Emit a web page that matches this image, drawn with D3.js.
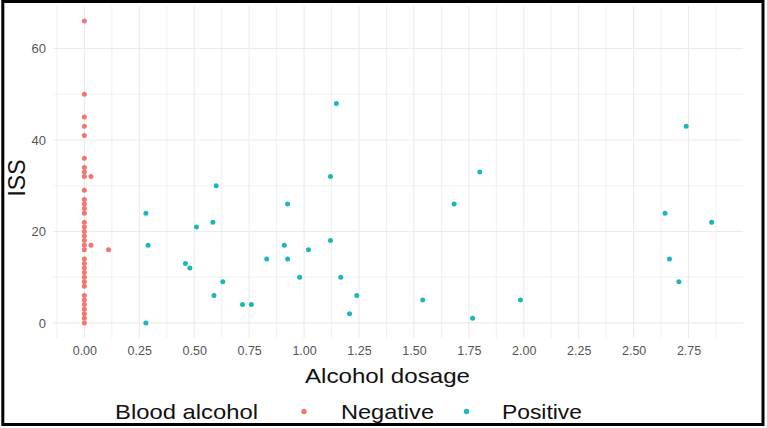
<!DOCTYPE html>
<html>
<head>
<meta charset="utf-8">
<script src="https://cdn.jsdelivr.net/npm/d3@7"></script>
<style>
  html, body { margin: 0; padding: 0; background: #fff; }
  svg { display: block; font-family: "Liberation Sans", Arial, sans-serif; }
</style>
</head>
<body>
<div id="chart"></div>
<script>
// Negative blood alcohol: dosage and ISS
const negDosage = [0,0,0,0,0,0,0, 0,0,0,0,0,0,0, 0,0,0,0,0,0,0, 0,0,0,0, 0, 0,0,0,0, 0,0,0,0,0, 0.03,0.03,0.11];
const negISS    = [0,1,2,3,4,5,6, 8,9,10,11,12,13,14, 16,17,18,19,20,21,22, 24,25,26,27, 29, 32,33,34,36, 41,43,45,50,66, 32,17,16];

// Positive blood alcohol
const posDosage = [0.28,0.28,0.29,0.46,0.48,0.51,0.585,0.60,0.59,0.63,0.72,0.76,
                   0.83,0.91,0.925,0.925,0.98,1.02,1.12,1.12,1.147,1.167,1.207,1.24,
                   1.54,1.683,1.767,1.80,1.985,2.643,2.663,2.706,2.739,2.855];
const posISS    = [24,0,17,13,12,21,22,30,6,9,4,4,
                   14,17,26,14,10,16,32,18,48,10,2,6,
                   5,26,1,33,5,24,14,9,43,22];

const xTicks = [0, 0.25, 0.5, 0.75, 1, 1.25, 1.5, 1.75, 2, 2.25, 2.5, 2.75];
const yTicks = [0, 20, 40, 60];
const groups = ['Negative', 'Positive'];
const groupColors = ['#F2756E', '#1CB7B8'];

const width = 767, height = 428;
const panel = {left: 53, right: 743, top: 6, bottom: 338};

const negPts = negDosage.map((d, i) => ({x: d, y: negISS[i], g: 0}));
const posPts = posDosage.map((d, i) => ({x: d, y: posISS[i], g: 1}));
const points = negPts.concat(posPts);

// ggplot-style 5% expansion of the data range
function expand(ext) {
    const pad = (ext[1] - ext[0]) * 0.05;
    return [ext[0] - pad, ext[1] + pad];
}

const x = d3.scaleLinear()
    .domain(expand(d3.extent(points, d => d.x)))
    .range([panel.left, panel.right]);
const y = d3.scaleLinear()
    .domain(expand(d3.extent(points, d => d.y)))
    .range([panel.bottom, panel.top]);

const svg = d3.select('#chart').append('svg')
    .attr('width', width)
    .attr('height', height);

svg.append('rect').attr('width', width).attr('height', height).attr('fill', '#fff');

// grid lines (major and minor, theme_minimal look)
const grid = svg.append('g').attr('stroke', '#EBEBEB').attr('fill', 'none');
const xMinor = d3.range(-0.125, x.domain()[1], 0.25).filter(v => v >= x.domain()[0]);
const yMinor = d3.range(10, y.domain()[1], 20);
grid.selectAll('line.xminor').data(xMinor).join('line')
    .attr('x1', d => x(d)).attr('x2', d => x(d))
    .attr('y1', panel.top).attr('y2', panel.bottom)
    .attr('stroke-width', 0.7);
grid.selectAll('line.yminor').data(yMinor).join('line')
    .attr('y1', d => y(d)).attr('y2', d => y(d))
    .attr('x1', panel.left).attr('x2', panel.right)
    .attr('stroke-width', 0.7);
grid.selectAll('line.xmajor').data(xTicks).join('line')
    .attr('x1', d => x(d)).attr('x2', d => x(d))
    .attr('y1', panel.top).attr('y2', panel.bottom)
    .attr('stroke-width', 1.1);
grid.selectAll('line.ymajor').data(yTicks).join('line')
    .attr('y1', d => y(d)).attr('y2', d => y(d))
    .attr('x1', panel.left).attr('x2', panel.right)
    .attr('stroke-width', 1.1);

// axes, tick labels only
const xAxis = svg.append('g')
    .attr('transform', `translate(0,${panel.bottom})`)
    .call(d3.axisBottom(x).tickValues(xTicks).tickFormat(d3.format('.2f')).tickSize(0).tickPadding(8));
const yAxis = svg.append('g')
    .attr('transform', `translate(${panel.left},0)`)
    .call(d3.axisLeft(y).tickValues(yTicks).tickSize(0).tickPadding(7));
[xAxis, yAxis].forEach(a => {
    a.select('.domain').remove();
    a.selectAll('text')
        .attr('fill', '#555')
        .style('font-size', '12.5px')
        .style('font-family', '"Liberation Sans", Arial, sans-serif');
});
yAxis.selectAll('text').style('font-size', '13px');

// points
svg.append('g').selectAll('circle')
    .data(points)
    .join('circle')
    .attr('cx', d => x(d.x))
    .attr('cy', d => y(d.y))
    .attr('r', 2.5)
    .attr('fill', d => groupColors[d.g]);

// axis titles
svg.append('text')
    .attr('x', 387.5).attr('y', 383)
    .attr('text-anchor', 'middle')
    .attr('textLength', 165).attr('lengthAdjust', 'spacingAndGlyphs')
    .style('font-size', '21px')
    .attr('fill', '#111')
    .text('Alcohol dosage');

svg.append('text')
    .attr('transform', 'translate(25,178) rotate(-90)')
    .attr('text-anchor', 'middle')
    .style('font-size', '23px')
    .attr('fill', '#111')
    .text('ISS');

// legend
const legend = svg.append('g');
legend.append('text')
    .attr('x', 115).attr('y', 419)
    .attr('textLength', 143).attr('lengthAdjust', 'spacingAndGlyphs')
    .style('font-size', '21px')
    .attr('fill', '#111')
    .text('Blood alcohol');
const legendItems = [
    {dot: 304, text: 341, len: 93},
    {dot: 466.5, text: 502, len: 80}
];
groups.forEach((g, i) => {
    legend.append('circle')
        .attr('cx', legendItems[i].dot).attr('cy', 411.5)
        .attr('r', 2.7)
        .attr('fill', groupColors[i]);
    legend.append('text')
        .attr('x', legendItems[i].text).attr('y', 419)
        .attr('textLength', legendItems[i].len).attr('lengthAdjust', 'spacingAndGlyphs')
        .style('font-size', '21px')
        .attr('fill', '#111')
        .text(g);
});

// outer frame
svg.append('rect')
    .attr('x', 2.8).attr('y', 1.5)
    .attr('width', 760.2).attr('height', 423)
    .attr('fill', 'none')
    .attr('stroke', '#000')
    .attr('stroke-width', 3);
</script>
</body>
</html>
